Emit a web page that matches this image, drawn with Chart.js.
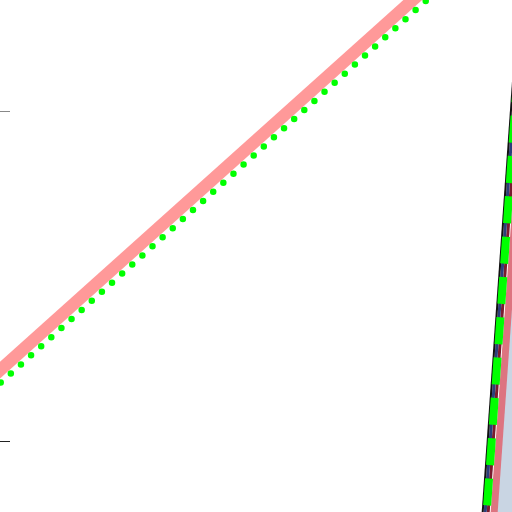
<!DOCTYPE html>
<html>
<head>
<meta charset="utf-8">
<script src="https://cdn.jsdelivr.net/npm/chart.js@4"></script>
<style>
  html, body { margin: 0; padding: 0; background: #fff; overflow: hidden; }
  canvas { display: block; }
</style>
</head>
<body>
<canvas id="chart" width="512" height="512"></canvas>
<script>
// y tick values (only marks are shown)
const yTicks = [10, 20];

// shallow diagonal, upper left
const diagX = [-4, 84];
const diagY = [11.88, 23.92];
const dotX = [-4, 86];
const dotY = [11.48, 23.81];

// steep group on the right, bottom point first
const steepY = [7.6, 23.6];
const blackX = [94.05, 101.43];
const navyX = [94.55, 101.93];
const limeX = [94.85, 102.23];
const maroonX = [95.15, 102.53];
const roseX = [96.34, 103.72];

function pts(xs, ys) {
    return xs.map((x, i) => ({ x: x, y: ys[i] }));
}

function lineSet(data, color, width, extra) {
    return Object.assign({
        data: data,
        borderColor: color,
        borderWidth: width,
        pointRadius: 0,
        tension: 0,
        fill: false,
        clip: false
    }, extra || {});
}

// first dataset is drawn on top
const datasets = [
    lineSet(pts(dotX, dotY), '#00ff00', 6.5, { borderDash: [0, 13.6], borderDashOffset: 12.7, borderCapStyle: 'round' }),
    lineSet(pts(diagX, diagY), '#ff9999', 12.5),
    lineSet(pts(limeX, steepY), '#00ff00', 8, { borderDash: [27, 13.4], borderDashOffset: 25.8 }),
    lineSet(pts(blackX, steepY), '#111111', 2),
    lineSet(pts(navyX, steepY), '#2b3f7a', 3),
    lineSet(pts(maroonX, steepY), '#7a1c2e', 3),
    lineSet(pts(roseX, steepY), '#dd7480', 7, { fill: 'start', backgroundColor: '#c9d5e3' })
];

const ctx = document.getElementById('chart').getContext('2d');
const chart = new Chart(ctx, {
    type: 'line',
    data: { datasets: datasets },
    options: {
        responsive: false,
        animation: false,
        plugins: { legend: { display: false }, tooltip: { enabled: false } },
        layout: { padding: 0 },
        scales: {
            x: { type: 'linear', min: 0, max: 100, display: false },
            y: {
                type: 'linear',
                min: 7.842,
                max: 23.404,
                afterBuildTicks: axis => { axis.ticks = yTicks.map(v => ({ value: v })); },
                ticks: { display: false },
                border: { display: false },
                grid: {
                    drawOnChartArea: false,
                    drawTicks: true,
                    tickLength: 10,
                    lineWidth: 1,
                    tickColor: c => (c.tick && c.tick.value === 20 ? '#888888' : '#222222')
                }
            }
        }
    }
});
</script>
</body>
</html>
